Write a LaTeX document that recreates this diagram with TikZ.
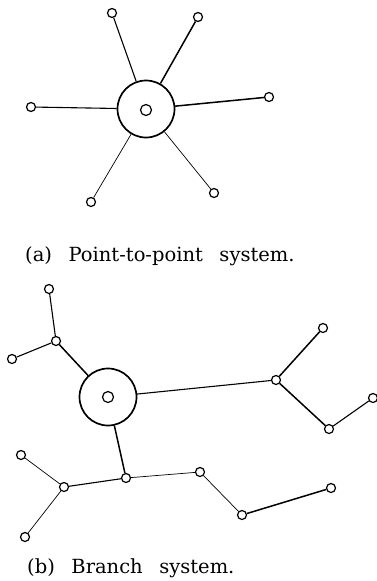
\documentclass[tikz,border=0pt]{standalone}
\usepackage{fontspec}
\setmainfont{DejaVu Serif}
\newcommand{\wgap}{\hspace{0.85em}}
\begin{document}
\begin{tikzpicture}[x={(1pt,0)},y={(0,-1pt)},
  leaf/.style={circle,draw,line width=1.2pt,minimum size=9pt,inner sep=0pt,fill=white},
  hub/.style={circle,draw,line width=1.7pt,minimum size=57pt,inner sep=0pt},
  core/.style={circle,draw,line width=1.2pt,minimum size=11pt,inner sep=0pt},
  thick link/.style={line width=1.5pt},
  mid link/.style={line width=1.1pt},
  thin link/.style={line width=0.7pt},
  caption/.style={anchor=base west,inner sep=0pt,font=\fontsize{19.5}{23}\selectfont}]
\useasboundingbox (0,0) rectangle (377,581);
% (a) point-to-point
\node[hub] (A) at (146,109) {};
\node[core] (Ac) at (146,110) {};
\node[leaf] (a1) at (112,13) {};
\node[leaf] (a2) at (198,17) {};
\node[leaf] (a3) at (269,97) {};
\node[leaf] (a4) at (31,107) {};
\node[leaf] (a5) at (91,202) {};
\node[leaf] (a6) at (214,193) {};
\draw[mid link] (A) -- (a1);
\draw[thick link] (A) -- (a2);
\draw[thick link] (A) -- (a3);
\draw[mid link] (A) -- (a4);
\draw[thin link] (A) -- (a5);
\draw[thin link] (A) -- (a6);
\node[caption] (capa) at (25,261) {(a)\wgap Point-to-point\wgap system.};
% (b) branch
\node[hub] (B) at (108,397) {};
\node[core] (Bc) at (108,397) {};
\node[leaf] (b1) at (49,289) {};
\node[leaf] (b2) at (56,341) {};
\node[leaf] (b3) at (12,359) {};
\node[leaf] (b4) at (276,380) {};
\node[leaf] (b5) at (323,328) {};
\node[leaf] (b6) at (373,398) {};
\node[leaf] (b7) at (329,429) {};
\node[leaf] (b8) at (126,478) {};
\node[leaf] (b9) at (64,487) {};
\node[leaf] (b10) at (21,455) {};
\node[leaf] (b11) at (25,537) {};
\node[leaf] (b12) at (200,472) {};
\node[leaf] (b13) at (242,515) {};
\node[leaf] (b14) at (331,488) {};
\draw[mid link] (b1) -- (b2);
\draw[mid link] (b2) -- (b3);
\draw[thick link] (b2) -- (B);
\draw[mid link] (B) -- (b4);
\draw[thick link] (b4) -- (b5);
\draw[thick link] (b4) -- (b7);
\draw[mid link] (b7) -- (b6);
\draw[thick link] (B) -- (b8);
\draw[mid link] (b8) -- (b9);
\draw[thin link] (b9) -- (b10);
\draw[thin link] (b9) -- (b11);
\draw[thin link] (b8) -- (b12);
\draw[thin link] (b12) -- (b13);
\draw[thick link] (b13) -- (b14);
\node[caption] (capb) at (27,573) {(b)\wgap Branch\wgap system.};
\end{tikzpicture}
\end{document}
